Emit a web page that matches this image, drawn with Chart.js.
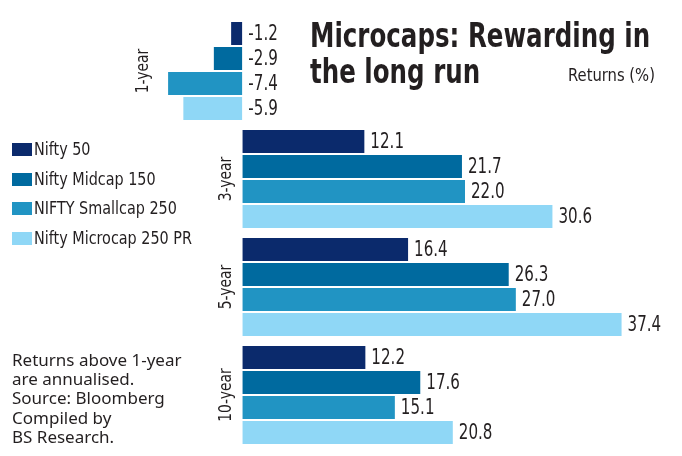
<!DOCTYPE html>
<html>
<head>
<meta charset="utf-8">
<script src="https://cdn.jsdelivr.net/npm/chart.js@4.4.0/dist/chart.umd.min.js"></script>
<style>
body { margin: 0; background: #fff; }
#wrap { position: relative; width: 682px; height: 456px; overflow: hidden; color: #231f20; }
#chart { position: absolute; left: 0; top: 0; }
.narrow { font-family: "DejaVu Sans Condensed", sans-serif; }
#title { position: absolute; left: 310px; top: 17px; font-size: 34px; font-weight: bold; line-height: 36px; white-space: nowrap; transform-origin: 0 0; }
#unit { position: absolute; left: 568px; top: 65px; font-size: 17px; line-height: 20px; white-space: nowrap; transform-origin: 0 0; }
#legend { position: absolute; left: 12px; top: 134px; font-size: 17px; }
#legend div { height: 29.7px; line-height: 30px; white-space: nowrap; }
#legend span { display: inline-block; width: 20px; height: 13px; margin-right: 2px; vertical-align: -1px; }
#legend b { display: inline-block; font-weight: normal; transform: scaleX(0.94); transform-origin: 0 50%; }
#note { position: absolute; left: 12px; top: 350px; font-family: "Noto Sans", sans-serif; font-size: 17px; line-height: 19.2px; }
</style>
</head>
<body>
<div id="wrap">
  <canvas id="chart" width="682" height="456"></canvas>
  <div id="title" class="narrow">Microcaps: Rewarding in<br>the long run</div>
  <div id="unit" class="narrow">Returns (%)</div>
  <div id="legend" class="narrow"></div>
  <div id="note">Returns above 1-year<br>are annualised.<br>Source: Bloomberg<br>Compiled by<br>BS Research.</div>
</div>
<script>
// periods (categories)
var periods = ["1-year", "3-year", "5-year", "10-year"];

// returns in %, one array per index
var nifty50 = [-1.2, 12.1, 16.4, 12.2];
var midcap150 = [-2.9, 21.7, 26.3, 17.6];
var smallcap250 = [-7.4, 22.0, 27.0, 15.1];
var microcap250 = [-5.9, 30.6, 37.4, 20.8];

var seriesNames = ["Nifty 50", "Nifty Midcap 150", "NIFTY Smallcap 250", "Nifty Microcap 250 PR"];
var seriesColors = ["#0b2a6c", "#006a9f", "#2194c3", "#8fd7f6"];

var seriesData = [nifty50, midcap150, smallcap250, microcap250];
var datasets = seriesData.map(function (vals, i) {
    return {
        label: seriesNames[i],
        data: vals,
        backgroundColor: seriesColors[i],
        borderColor: '#ffffff',
        borderWidth: 1,
        barPercentage: 1,
        categoryPercentage: 0.926
    };
});

var textFont = '"DejaVu Sans Condensed", sans-serif';

// squeeze text horizontally, the original uses a very narrow face
function narrowText(ctx, txt, x, y, rot, sx) {
    ctx.save();
    ctx.translate(x, y);
    if (rot) ctx.rotate(rot);
    ctx.scale(sx, 1);
    ctx.fillText(txt, 0, 0);
    ctx.restore();
}

// value labels next to bars + rotated period labels
var labelPlugin = {
    id: 'barLabels',
    afterDatasetsDraw: function (chart) {
        var ctx = chart.ctx;
        var zeroX = chart.scales.x.getPixelForValue(0);
        ctx.save();
        ctx.fillStyle = '#231f20';
        ctx.font = '21px ' + textFont;
        ctx.textAlign = 'left';
        ctx.textBaseline = 'middle';
        chart.data.datasets.forEach(function (ds, di) {
            chart.getDatasetMeta(di).data.forEach(function (bar, i) {
                var v = ds.data[i];
                var x = v < 0 ? zeroX + 6 : bar.x + 5;
                narrowText(ctx, v.toFixed(1), x, bar.y + 1, 0, 0.8);
            });
        });
        ctx.font = '18px ' + textFont;
        ctx.textAlign = 'center';
        chart.data.labels.forEach(function (lab, i) {
            var minX = zeroX;
            chart.data.datasets.forEach(function (ds, di) {
                var b = chart.getDatasetMeta(di).data[i];
                minX = Math.min(minX, b.x);
            });
            var cx = minX < zeroX ? minX - 24 : zeroX - 16;
            var cy = chart.scales.y.getPixelForValue(i);
            narrowText(ctx, lab, cx, cy, -Math.PI / 2, 0.86);
        });
        ctx.restore();
    }
};

var chart = new Chart(document.getElementById('chart').getContext('2d'), {
    type: 'bar',
    data: { labels: periods, datasets: datasets },
    options: {
        indexAxis: 'y',
        responsive: false,
        animation: false,
        layout: { padding: { left: 161, right: 33, top: 17, bottom: 7 } },
        scales: {
            x: { display: false, min: -8, max: 40 },
            y: { display: false }
        },
        plugins: { legend: { display: false }, tooltip: { enabled: false } }
    },
    plugins: [labelPlugin]
});

// legend built from the datasets
var legendBox = document.getElementById('legend');
datasets.forEach(function (ds) {
    var row = document.createElement('div');
    var sw = document.createElement('span');
    sw.style.background = ds.backgroundColor;
    var tx = document.createElement('b');
    tx.textContent = ds.label;
    row.appendChild(sw);
    row.appendChild(tx);
    legendBox.appendChild(row);
});

// fit title and unit to the widths they have in the original
function fitWidth(id, w) {
    var el = document.getElementById(id);
    el.style.transform = 'scaleX(' + (w / el.scrollWidth) + ')';
}
fitWidth('title', 340);
fitWidth('unit', 87);
</script>
</body>
</html>
